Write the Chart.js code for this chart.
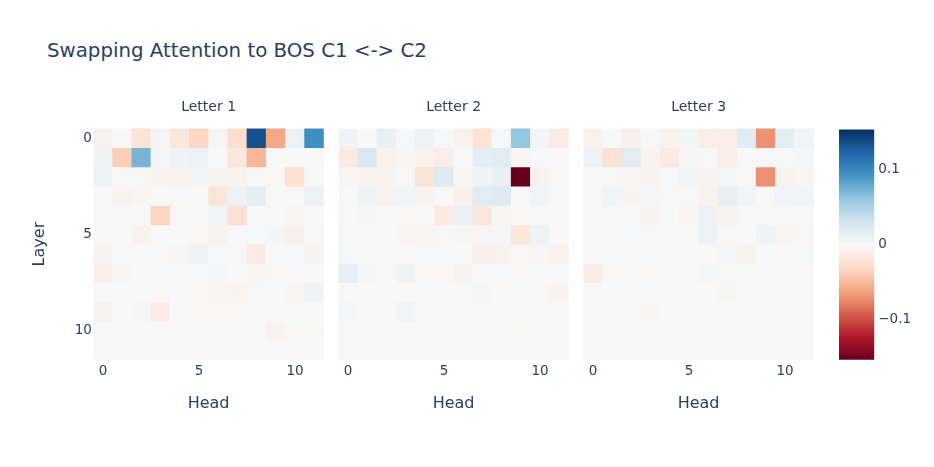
<!DOCTYPE html>
<html>
<head>
<meta charset="utf-8">
<script src="https://cdn.jsdelivr.net/npm/chart.js@4.4.1/dist/chart.umd.min.js"></script>
<style>
  html, body { margin: 0; padding: 0; background: #fff; }
  #wrap { position: relative; width: 934px; height: 467px; overflow: hidden; }
  #wrap canvas { position: absolute; left: 0; top: 0; }
  #title { position: absolute; left: 47px; top: 39px; font: 19.8px "DejaVu Sans"; line-height: 24px; color: #2a3f5f; white-space: nowrap; }
</style>
</head>
<body>
<div id="wrap">
  <div id="title">Swapping Attention to BOS C1 &lt;-&gt; C2</div>
  <canvas id="p1" width="934" height="467"></canvas>
  <canvas id="p2" width="934" height="467"></canvas>
  <canvas id="p3" width="934" height="467"></canvas>
  <canvas id="cb" width="934" height="467"></canvas>
</div>
<script>
var heads = [0, 1, 2, 3, 4, 5, 6, 7, 8, 9, 10, 11];
var layers = [0, 1, 2, 3, 4, 5, 6, 7, 8, 9, 10, 11];
var panelTitles = ["Letter 1", "Letter 2", "Letter 3"];
var axisTicks = [0, 5, 10];
var colorTicks = [-0.1, 0, 0.1];
var zmin = -0.1536;
var zmax = 0.1536;

// rows = layers, columns = heads
var letter1 = [
  [-0.005, 0, -0.022, -0.002, -0.016, -0.033, -0.002, -0.026, 0.135, -0.06, 0.01, 0.095],
  [0.007, -0.038, 0.072, 0.003, 0.006, 0.01, 0, -0.018, -0.052, 0, 0, 0],
  [0.01, 0, 0.001, -0.004, -0.007, 0.004, -0.004, -0.007, 0.002, -0.001, -0.025, 0],
  [0, -0.005, -0.003, 0, 0.002, 0, -0.02, 0.01, 0.016, 0, 0, 0.01],
  [0, 0.001, 0, -0.034, 0.001, 0.001, 0.005, -0.024, 0, 0, -0.002, 0],
  [0, 0, -0.005, 0, 0, -0.001, -0.007, 0.002, 0.002, 0.004, -0.008, 0.001],
  [-0.004, 0, 0, -0.001, -0.002, 0.006, 0.002, 0.001, -0.012, 0, 0.002, -0.004],
  [-0.009, -0.002, 0, 0.001, 0, 0.002, 0.003, 0, -0.003, -0.001, 0, 0],
  [0, 0, 0, -0.001, 0, -0.001, -0.002, -0.004, 0.001, 0, -0.003, 0.006],
  [-0.005, 0, 0.003, -0.012, 0, -0.001, -0.001, -0.001, 0, 0, 0, 0],
  [0, 0, 0, 0, 0, 0, 0, 0, 0, -0.004, -0.001, -0.001],
  [0, 0, 0, 0, 0, 0, 0, 0, 0, 0, 0, 0]
];
var letter2 = [
  [0.006, 0, 0.012, 0.002, 0.008, 0.002, -0.005, -0.022, 0.002, 0.06, 0.004, -0.013],
  [-0.014, 0.025, -0.007, -0.002, -0.007, -0.011, 0.001, 0.015, 0.017, -0.002, 0, 0],
  [-0.003, -0.004, -0.005, 0.001, -0.022, 0.022, -0.003, 0.006, 0.012, -0.1536, -0.006, -0.001],
  [0, 0.007, -0.006, 0.005, -0.004, 0, -0.008, 0.018, 0.02, 0, 0.005, 0.001],
  [0, -0.002, 0, -0.001, 0, -0.014, 0.011, -0.016, -0.002, -0.001, 0, 0],
  [0.002, 0, 0, -0.003, -0.003, 0.001, -0.002, -0.002, 0.003, -0.018, 0.008, 0],
  [0.002, 0, 0, 0, 0.002, 0.002, 0, -0.008, -0.005, -0.001, -0.003, -0.005],
  [0.014, 0.003, 0, 0.006, -0.001, -0.001, -0.006, 0, 0.002, -0.001, 0, 0],
  [0, 0, 0, 0, 0, 0, 0, 0.003, 0, 0, -0.001, -0.004],
  [0.003, 0, 0, 0.005, 0, 0, 0, 0.001, 0, 0, 0, 0],
  [0, 0, 0, 0, 0, 0, 0, 0, 0, -0.001, 0, 0],
  [0, 0, 0, 0, 0, 0, 0, 0, 0, 0, 0, 0]
];
var letter3 = [
  [-0.007, 0, -0.008, 0.001, -0.005, 0.004, -0.01, -0.01, 0.019, -0.07, 0.016, 0.005],
  [0.008, -0.022, 0.017, -0.004, -0.014, -0.002, 0.001, -0.01, 0, 0.002, 0, 0.003],
  [0, 0.002, -0.002, -0.004, 0.002, 0.005, -0.004, 0.003, 0, -0.07, -0.005, -0.003],
  [0, 0.005, -0.004, 0.003, 0.001, 0.001, -0.005, 0.012, 0.005, 0, 0.005, 0.005],
  [0.001, 0, 0, -0.004, 0, -0.003, 0.01, -0.007, 0, 0.001, -0.001, 0],
  [-0.001, 0, 0.002, 0.001, 0.001, 0, 0.008, 0.001, 0, 0.006, -0.003, 0.001],
  [0, 0, 0, 0, 0, 0.001, 0, 0.003, -0.005, 0, 0, 0.002],
  [-0.012, -0.001, 0, -0.001, 0, 0, 0.003, 0.001, 0, 0, 0, 0],
  [0, 0, 0, 0, 0, 0, 0, -0.002, 0, 0, 0, 0],
  [0.001, 0, 0, -0.002, 0, 0, 0, 0, 0, 0, 0, 0],
  [0, 0, 0, 0, 0, 0, 0, 0, 0, 0, 0, 0],
  [0, 0, 0, 0, 0, 0, 0, 0, 0, 0, 0, 0]
];

// RdBu diverging scale, low = red, high = blue
var rdbu = [
  [103, 0, 31], [178, 24, 43], [214, 96, 77], [244, 165, 130], [253, 219, 199],
  [247, 247, 247], [209, 229, 240], [146, 197, 222], [67, 147, 195], [33, 102, 172], [5, 48, 97]
];

function colorFor(v) {
  var t = (v - zmin) / (zmax - zmin);
  t = Math.max(0, Math.min(1, t)) * (rdbu.length - 1);
  var i = Math.min(Math.floor(t), rdbu.length - 2);
  var f = t - i;
  var a = rdbu[i], b = rdbu[i + 1];
  return "rgb(" + [0, 1, 2].map(function (k) { return Math.round(a[k] + (b[k] - a[k]) * f); }).join(",") + ")";
}

Chart.defaults.font.family = "DejaVu Sans";
Chart.defaults.color = "#2a3f5f";

var tickFont = { size: 13.5 };
var axisTitleFont = { size: 16 };
var noGrid = { display: false, drawTicks: false };

function heatmap(id, values, title, pad, showY) {
  var datasets = layers.map(function (layer, li) {
    return {
      data: heads.map(function () { return [layer - 0.5, layer + 0.5]; }),
      backgroundColor: values[li].map(colorFor),
      grouped: false,
      barPercentage: 1,
      categoryPercentage: 1,
      borderWidth: 0
    };
  });
  new Chart(document.getElementById(id), {
    type: "bar",
    data: { labels: heads, datasets: datasets },
    options: {
      responsive: false,
      animation: false,
      layout: { padding: pad },
      plugins: {
        legend: { display: false },
        tooltip: { enabled: false },
        title: {
          display: true,
          text: title,
          fullSize: false,
          font: { size: 14, weight: "normal" },
          padding: { top: 9, bottom: 12.6 }
        }
      },
      scales: {
        x: {
          grid: noGrid,
          border: { display: false },
          ticks: {
            font: tickFont,
            padding: 4,
            autoSkip: false,
            maxRotation: 0,
            callback: function (v, i) { return axisTicks.indexOf(heads[i]) >= 0 ? String(heads[i]) : ""; }
          },
          title: { display: true, text: "Head", font: axisTitleFont, padding: { top: 0, bottom: 6.5 } },
          afterFit: function (s) { s.height = 60.2; }
        },
        y: {
          display: showY,
          reverse: true,
          min: -0.5,
          max: 11.5,
          grid: noGrid,
          border: { display: false },
          afterBuildTicks: function (s) { s.ticks = axisTicks.map(function (v) { return { value: v }; }); },
          ticks: { font: tickFont, padding: 1.5 },
          title: { display: true, text: "Layer", font: axisTitleFont, padding: { top: 10.4, bottom: 0 } },
          afterFit: function (s) { s.width = showY ? 73.4 : 0; }
        }
      }
    }
  });
}

heatmap("p1", letter1, panelTitles[0], { left: 20, right: 610.2, top: 90, bottom: 47 }, true);
heatmap("p2", letter2, panelTitles[1], { left: 338.4, right: 365.2, top: 90, bottom: 47 }, false);
heatmap("p3", letter3, panelTitles[2], { left: 583.4, right: 120.2, top: 90, bottom: 47 }, false);

// colour bar
new Chart(document.getElementById("cb"), {
  type: "bar",
  data: {
    labels: [""],
    datasets: [{
      data: [[zmin, zmax]],
      barPercentage: 1,
      categoryPercentage: 1,
      borderWidth: 0,
      backgroundColor: function (c) {
        var chart = c.chart, area = chart.chartArea;
        if (!area) return null;
        var ys = chart.scales.y;
        var g = chart.ctx.createLinearGradient(0, ys.getPixelForValue(zmin), 0, ys.getPixelForValue(zmax));
        rdbu.forEach(function (col, i) {
          g.addColorStop(i / (rdbu.length - 1), "rgb(" + col.join(",") + ")");
        });
        return g;
      }
    }]
  },
  options: {
    responsive: false,
    animation: false,
    layout: { padding: { left: 839, right: 9.7, top: 129.4, bottom: 107.2 } },
    plugins: { legend: { display: false }, tooltip: { enabled: false } },
    scales: {
      x: { display: false },
      y: {
        position: "right",
        min: zmin,
        max: zmax,
        grid: noGrid,
        border: { display: false },
        afterBuildTicks: function (s) { s.ticks = colorTicks.map(function (v) { return { value: v }; }); },
        ticks: {
          font: tickFont,
          padding: 4,
          callback: function (v) { return v < 0 ? "\u2212" + Math.abs(v) : String(v); }
        },
        afterFit: function (s) { s.width = 50; }
      }
    }
  }
});
</script>
</body>
</html>
